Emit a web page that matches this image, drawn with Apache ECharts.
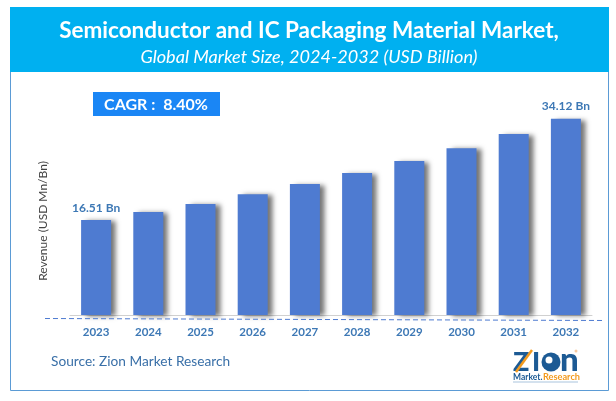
<!DOCTYPE html>
<html><head><meta charset="utf-8">
<style>html,body{margin:0;padding:0;background:#fff}#c{width:616px;height:401px}</style>
<script src="https://cdn.jsdelivr.net/npm/echarts@6/dist/echarts.min.js"></script></head>
<body><div id="c"></div>
<script>
const years = ['2023','2024','2025','2026','2027','2028','2029','2030','2031','2032'];
const values = [16.51,17.9,19.3,21.0,22.8,24.7,26.8,29.0,31.5,34.12];
const labelled = {0:'16.51 Bn',9:'34.12 Bn'};
const titleText = 'Semiconductor and IC Packaging Material Market,';
const subtitleText = 'Global Market Size, 2024-2032 (USD Billion)';
const axisName = 'Revenue (USD Mn/Bn)';
const F = 'Lato, "Open Sans", sans-serif';
const chart = echarts.init(document.getElementById('c'), null, {renderer:'canvas'});
chart.setOption({
  animation:false,
  backgroundColor:'#fff',
  title:[
    {text:titleText,left:304,top:14,textAlign:'center',textStyle:{color:'#fff',fontFamily:F,fontSize:22.5,fontWeight:'bold'},z:10},
    {text:subtitleText,left:304,top:43,textAlign:'center',textStyle:{color:'#fff',fontFamily:F,fontSize:18.1,fontStyle:'italic',fontWeight:'normal'},z:10}
  ],
  grid:{left:70,right:24,top:85,height:230},
  xAxis:{type:'category',data:years,
    axisLine:{lineStyle:{color:'#d0d0d0',width:1}},axisTick:{show:false},
    axisLabel:{color:'#3d78b5',fontFamily:F,fontSize:11.5,fontWeight:'bold',margin:11}},
  yAxis:{type:'value',min:0,max:40,show:true,
    axisLine:{show:false},axisTick:{show:false},axisLabel:{show:false},splitLine:{show:false}},
  series:[{type:'bar',barWidth:30,
    data:values.map((v,i)=>({value:v,
      label:{show:i in labelled,position:'top',distance:i===9?7:6,formatter:()=>labelled[i],
        color:'#3d78b5',fontFamily:F,fontSize:12,fontWeight:'bold'}})),
    itemStyle:{color:'#4e7bd1',shadowColor:'rgba(0,0,0,0.55)',shadowBlur:5,shadowOffsetX:5,shadowOffsetY:1}}],
  graphic:[
    {type:'rect',z:-1,shape:{x:10.5,y:7.5,width:598,height:383},style:{fill:'#fff',stroke:'#5b9bd5',lineWidth:1}},
    {type:'rect',z:0,shape:{x:10,y:7,width:599,height:65},style:{fill:'#00b0f0'}},
    {type:'rect',z:0,shape:{x:93,y:92,width:127,height:24},style:{fill:'#1a86f5'}},
    {type:'text',z:5,x:156,y:105,style:{text:'CAGR :  8.40%',fill:'#fff',font:'bold 16px '+F,textAlign:'center',textVerticalAlign:'middle'}},
    {type:'text',z:5,x:43,y:221,rotation:Math.PI/2,style:{text:axisName,fill:'#444',font:'12px '+F,textAlign:'center',textVerticalAlign:'middle'}},
    {type:'line',z:5,shape:{x1:45,y1:318.5,x2:603,y2:320.5},style:{stroke:'#4e7bd1',lineWidth:1,lineDash:[5,3]}},
    {type:'text',z:5,x:51,y:362,style:{text:'Source: Zion Market Research',fill:'#3a70a8',font:'13.7px '+F,textVerticalAlign:'middle'}},
    {type:'text',z:5,x:513,y:362,style:{text:'Z',fill:'#1c5a94',font:'900 27px '+F,textVerticalAlign:'middle'}},
    {type:'line',z:6,shape:{x1:516,y1:372,x2:532,y2:350},style:{stroke:'#f39a1e',lineWidth:2.5}},
    {type:'text',z:5,x:532,y:362,style:{text:'I',fill:'#1c5a94',font:'900 27px '+F,textVerticalAlign:'middle'}},
    {type:'circle',z:5,shape:{cx:551,cy:362,r:9.5},style:{fill:'#1c5a94'}},
    {type:'circle',z:6,shape:{cx:549,cy:360,r:3.5},style:{fill:'#fff'}},
    {type:'text',z:5,x:560,y:360,style:{text:'n',fill:'#1c5a94',font:'900 33px '+F,textVerticalAlign:'middle'}},
    {type:'circle',z:5,shape:{cx:576,cy:351,r:1.5},style:{fill:'#f7c9a0'}},
    {type:'text',z:5,x:513,y:377,style:{text:'Market.',fill:'#1c5a94',font:'bold 8.5px '+F,textVerticalAlign:'middle'}},
    {type:'text',z:5,x:543,y:377,style:{text:'Research',fill:'#f39a1e',font:'bold 9.2px '+F,textVerticalAlign:'middle'}},
    {type:'line',z:5,shape:{x1:513,y1:382,x2:578,y2:382},style:{stroke:'#a9c4dd',lineWidth:1}}
  ]
});
</script></body></html>
